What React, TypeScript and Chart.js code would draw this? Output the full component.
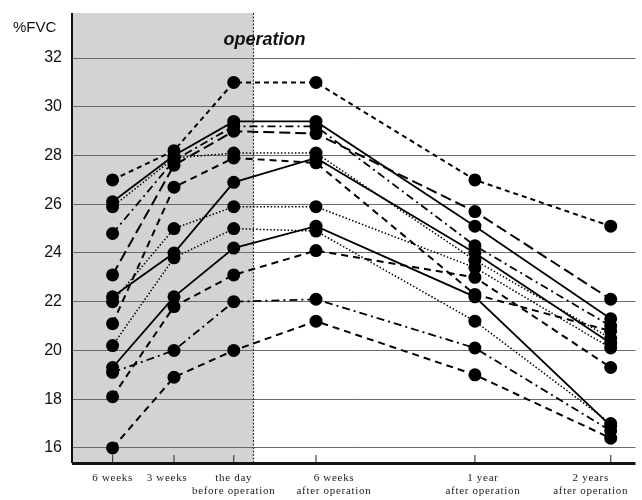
import React, { useEffect, useRef } from "react";
import { Chart, registerables } from "chart.js";

Chart.register(...registerables);

// ---- data ----
const timepointLabels: string[][] = [
  ["6 weeks"],
  ["3 weeks"],
  ["the day", "before operation"],
  ["6 weeks", "after operation"],
  ["1 year", "after operation"],
  ["2 years", "after operation"],
];
// positions of the (not-to-scale) time points along the x axis
const timepointAxisPos = [0.72, 1.81, 2.87, 4.33, 7.15, 9.56];
const operationAxisPos = 3.22;
const yTickValues = [16, 18, 20, 22, 24, 26, 28, 30, 32];

const patient1 = [27.0, 28.2, 31.0, 31.0, 27.0, 25.1];
const patient2 = [26.1, 28.0, 29.4, 29.4, 25.1, 21.3];
const patient3 = [25.9, 27.9, 28.1, 28.1, 23.7, 20.5];
const patient4 = [24.8, 27.8, 29.2, 29.2, 24.3, 21.0];
const patient5 = [23.1, 27.6, 29.0, 28.9, 25.7, 22.1];
const patient6 = [22.2, 24.0, 26.9, 27.9, 24.0, 20.3];
const patient7 = [19.3, 22.2, 24.2, 25.1, 22.2, 16.9];
const patient8 = [21.1, 26.7, 27.9, 27.7, 22.3, 20.8];
const patient9 = [22.0, 25.0, 25.9, 25.9, 23.4, 20.1];
const patient10 = [20.2, 23.8, 25.0, 24.9, 21.2, 17.0];
const patient11 = [18.1, 21.8, 23.1, 24.1, 23.0, 19.3];
const patient12 = [19.1, 20.0, 22.0, 22.1, 20.1, 16.7];
const patient13 = [16.0, 18.9, 20.0, 21.2, 19.0, 16.4];

type Style = "solid" | "short" | "long" | "dashed" | "dotted" | "dashdot";
const patients: { values: number[]; style: Style }[] = [
  { values: patient1, style: "short" },
  { values: patient2, style: "solid" },
  { values: patient3, style: "dotted" },
  { values: patient4, style: "dashdot" },
  { values: patient5, style: "long" },
  { values: patient6, style: "solid" },
  { values: patient7, style: "solid" },
  { values: patient8, style: "dashed" },
  { values: patient9, style: "dotted" },
  { values: patient10, style: "dotted" },
  { values: patient11, style: "dashed" },
  { values: patient12, style: "dashdot" },
  { values: patient13, style: "dashed" },
];

const dashFor: Record<Style, number[]> = {
  solid: [],
  short: [5, 4],
  long: [11, 5],
  dashed: [7, 5],
  dotted: [1.5, 2],
  dashdot: [8, 4, 2, 4],
};
const widthFor: Record<Style, number> = {
  solid: 1.8,
  short: 2,
  long: 2,
  dashed: 2,
  dotted: 1.5,
  dashdot: 1.8,
};

// label shifts (px) relative to each time point, as in the original layout
const labelShift = [0, -7, 0, 18, 8, -20];

const decorPlugin = {
  id: "decor",
  beforeDraw(chart: any) {
    const { ctx, chartArea, scales } = chart;
    const xOp = scales.x.getPixelForValue(operationAxisPos);
    ctx.save();
    ctx.fillStyle = "#d3d3d3";
    ctx.fillRect(chartArea.left, chartArea.top, xOp - chartArea.left, chartArea.bottom - chartArea.top);
    ctx.restore();
  },
  beforeDatasetsDraw(chart: any) {
    const { ctx, chartArea, scales } = chart;
    const xOp = scales.x.getPixelForValue(operationAxisPos);
    ctx.save();
    ctx.strokeStyle = "#333";
    ctx.lineWidth = 1.2;
    ctx.setLineDash([2, 1.5]);
    ctx.beginPath();
    ctx.moveTo(xOp, chartArea.top);
    ctx.lineTo(xOp, chartArea.bottom);
    ctx.stroke();
    ctx.setLineDash([]);
    // x tick marks (inside)
    ctx.lineWidth = 1.2;
    ctx.strokeStyle = "#444";
    timepointAxisPos.forEach((p) => {
      const px = scales.x.getPixelForValue(p);
      ctx.beginPath();
      ctx.moveTo(px, chartArea.bottom);
      ctx.lineTo(px, chartArea.bottom - 8);
      ctx.stroke();
    });
    ctx.restore();
  },
  afterDraw(chart: any) {
    const { ctx, chartArea, scales } = chart;
    const xOp = scales.x.getPixelForValue(operationAxisPos);
    ctx.save();
    // axes
    ctx.strokeStyle = "#111";
    ctx.lineWidth = 2;
    ctx.beginPath();
    ctx.moveTo(chartArea.left, chartArea.top);
    ctx.lineTo(chartArea.left, chartArea.bottom);
    ctx.stroke();
    ctx.lineWidth = 3;
    ctx.beginPath();
    ctx.moveTo(chartArea.left, chartArea.bottom + 0.5);
    ctx.lineTo(chartArea.right, chartArea.bottom + 0.5);
    ctx.stroke();
    // operation label
    ctx.fillStyle = "#111";
    ctx.font = "italic bold 18px 'Liberation Sans', Arial, sans-serif";
    ctx.textAlign = "center";
    ctx.textBaseline = "alphabetic";
    ctx.fillText("operation", xOp + 11, 45);
    // y title
    ctx.font = "15px 'Liberation Sans', Arial, sans-serif";
    ctx.textAlign = "left";
    ctx.fillText("%FVC", 13, 32);
    // x labels
    ctx.font = "11px 'Liberation Serif', 'DejaVu Serif', serif";
    ctx.fillStyle = "#222";
    (ctx as any).letterSpacing = "0.7px";
    ctx.textAlign = "center";
    timepointLabels.forEach((lines, i) => {
      const px = scales.x.getPixelForValue(timepointAxisPos[i]) + labelShift[i];
      lines.forEach((t, j) => {
        ctx.fillText(t, px, chartArea.bottom + 18 + j * 13);
      });
    });
    ctx.restore();
  },
};

export default function App() {
  const ref = useRef<HTMLCanvasElement | null>(null);
  useEffect(() => {
    if (!ref.current) return;
    const chart = new Chart(ref.current, {
      type: "scatter",
      data: {
        datasets: patients.map((p) => ({
          data: p.values.map((v, i) => ({ x: timepointAxisPos[i], y: v })),
          showLine: true,
          borderColor: "#000",
          backgroundColor: "#000",
          borderWidth: widthFor[p.style],
          borderDash: dashFor[p.style],
          pointRadius: 6.5,
          pointBorderWidth: 0,
          pointBackgroundColor: "#000",
          tension: 0,
        })),
      },
      options: {
        animation: false,
        responsive: false,
        layout: { padding: { top: 13, right: 2, bottom: 37, left: 0 } },
        plugins: { legend: { display: false }, tooltip: { enabled: false } },
        scales: {
          x: {
            type: "linear",
            min: 0,
            max: 10,
            display: false,
          },
          y: {
            type: "linear",
            min: 15.38,
            max: 33.85,
            afterBuildTicks: (scale: any) => {
              scale.ticks = yTickValues.map((v) => ({ value: v }));
            },
            afterFit: (scale: any) => {
              scale.width = 72;
            },
            border: { display: false },
            grid: {
              color: "#6a6a6a",
              lineWidth: 1,
              drawTicks: true,
              tickLength: 10,
              tickColor: "rgba(0,0,0,0)",
            },
            ticks: {
              padding: 0,
              color: "#111",
              font: { family: "'Liberation Sans', Arial, sans-serif", size: 16 },
            },
          },
        },
      },
      plugins: [decorPlugin],
    });
    return () => chart.destroy();
  }, []);
  return (
    <div style={{ position: "fixed", left: 0, top: 0, width: 642, height: 500, background: "#fff" }}>
      <canvas ref={ref} width={642} height={500} />
    </div>
  );
}
